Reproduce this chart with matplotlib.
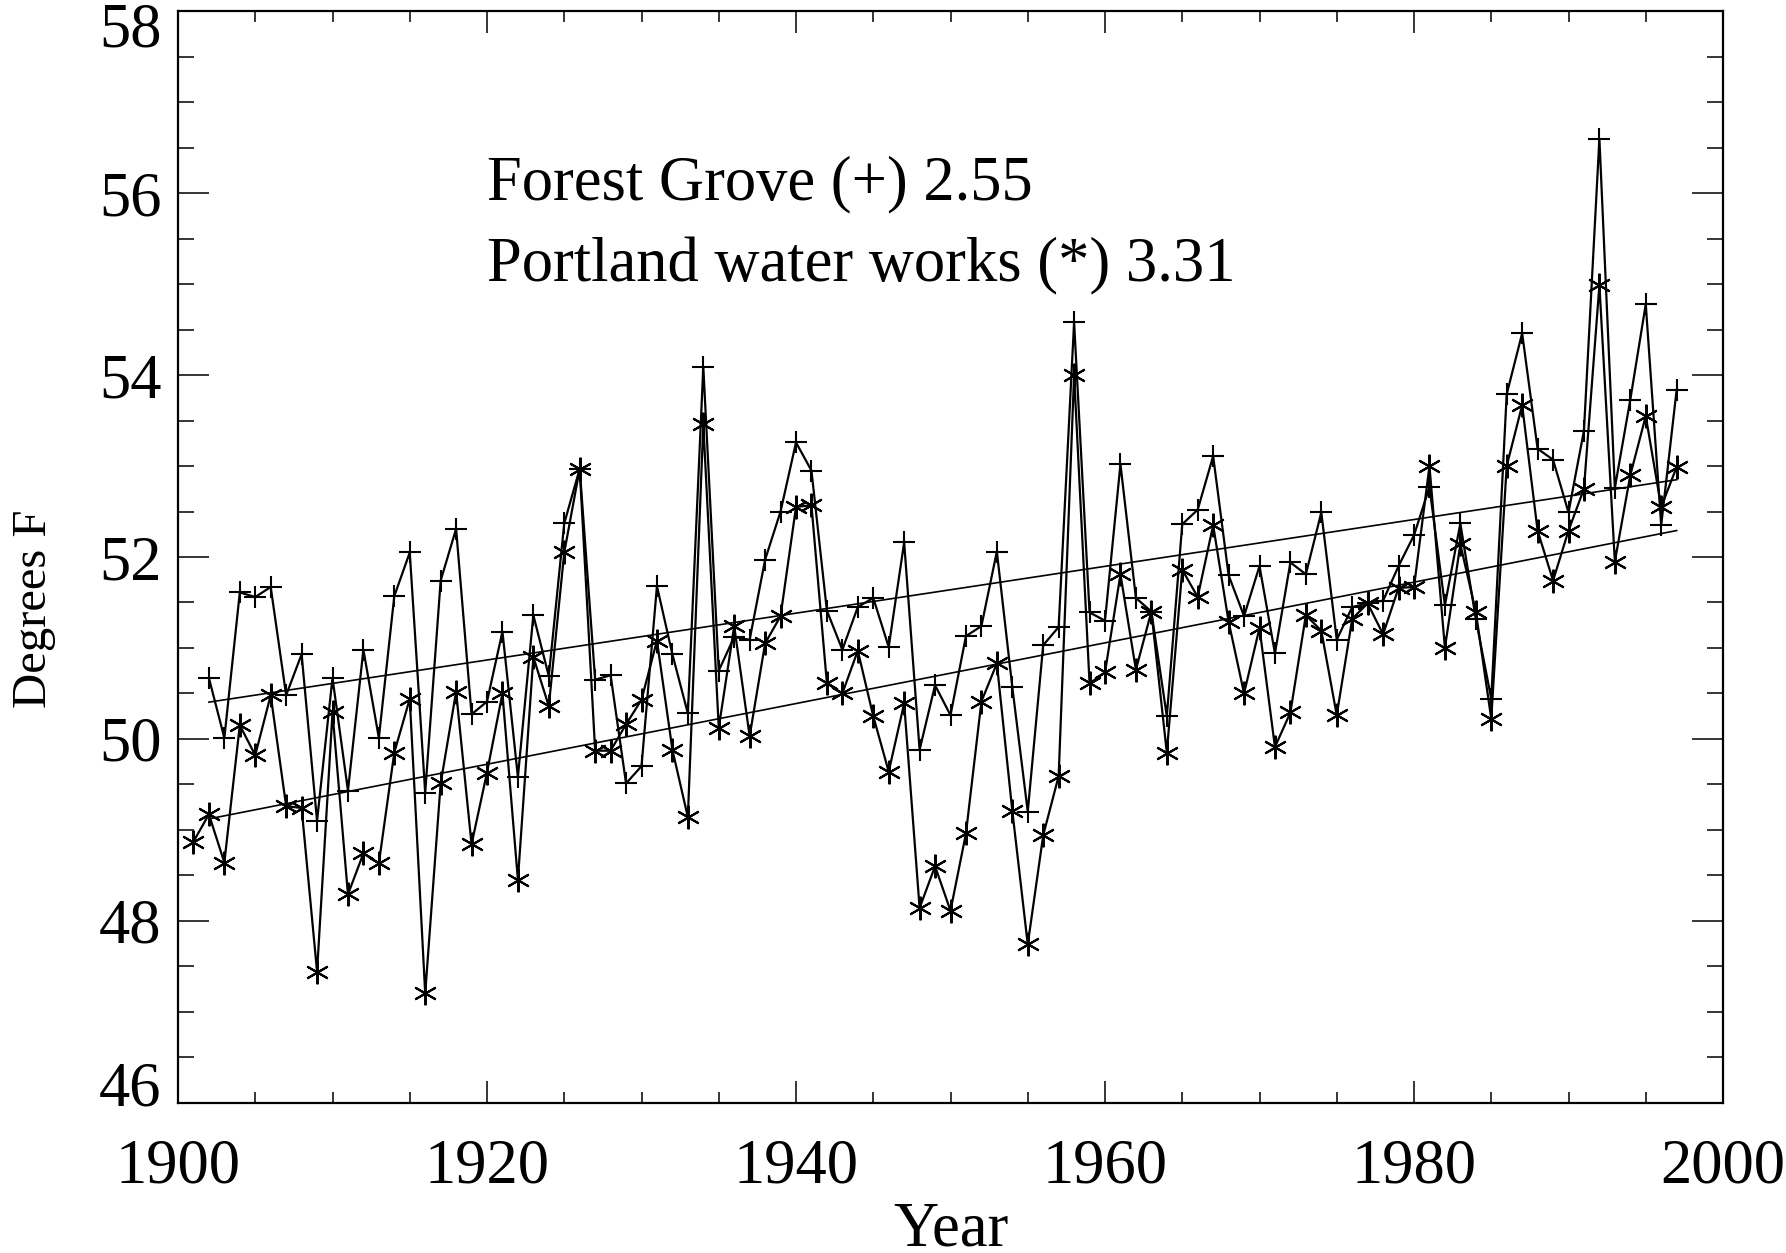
import numpy as np
import matplotlib
matplotlib.use('Agg')
import matplotlib.pyplot as plt
from matplotlib.ticker import MultipleLocator
from matplotlib.transforms import ScaledTranslation

# annual mean temperature, degrees F
fg_years = list(range(1902, 1998))   # Forest Grove (+)
fg_temp = [50.67, 50.01, 51.61, 51.56, 51.67, 50.48, 50.93, 49.10, 50.67, 49.43,
           50.98, 50.01, 51.57, 52.05, 49.41, 51.74, 52.31, 50.27, 50.41, 51.18,
           49.58, 51.36, 50.69, 52.37, 52.97, 50.65, 50.70, 49.51, 49.70, 51.68,
           50.93, 50.28, 54.09, 50.75, 51.12, 51.09, 51.97, 52.50, 53.26, 52.95,
           51.41, 50.98, 51.45, 51.55, 51.01, 52.16, 49.88, 50.59, 50.26, 51.13,
           51.24, 52.06, 50.57, 49.20, 51.03, 51.23, 54.58, 51.39, 51.30, 53.02,
           51.55, 51.40, 50.25, 52.36, 52.52, 53.11, 51.80, 51.35, 51.90, 50.94,
           51.94, 51.81, 52.49, 51.09, 51.45, 51.49, 51.52, 51.90, 52.24, 52.77,
           51.47, 52.37, 51.32, 50.44, 53.79, 54.46, 53.19, 53.07, 52.49, 53.39,
           56.60, 52.76, 53.73, 54.78, 52.35, 53.84]

pw_years = list(range(1901, 1998))   # Portland water works (*)
pw_temp = [48.87, 49.17, 48.64, 50.15, 49.82, 50.48, 49.26, 49.24, 47.44, 50.29,
           48.29, 48.74, 48.63, 49.85, 50.44, 47.20, 49.51, 50.52, 48.84, 49.63,
           50.50, 48.45, 50.90, 50.36, 52.05, 52.97, 49.87, 49.87, 50.16, 50.43,
           51.08, 49.88, 49.14, 53.46, 50.12, 51.24, 50.03, 51.05, 51.35, 52.55,
           52.57, 50.61, 50.50, 50.97, 50.25, 49.64, 50.39, 48.14, 48.60, 48.11,
           48.96, 50.41, 50.83, 49.21, 47.74, 48.94, 49.59, 54.00, 50.61, 50.73,
           51.81, 50.76, 51.40, 49.85, 51.86, 51.56, 52.35, 51.29, 50.50, 51.22,
           49.91, 50.29, 51.36, 51.19, 50.26, 51.32, 51.49, 51.15, 51.66, 51.67,
           53.00, 51.00, 52.14, 51.40, 50.22, 53.00, 53.67, 52.29, 51.74, 52.29,
           52.75, 54.99, 51.95, 52.90, 53.55, 52.55, 52.99]

labels = ['Forest Grove (+) 2.55', 'Portland water works (*) 3.31']
xticks = [1900, 1920, 1940, 1960, 1980, 2000]
yticks = [46, 48, 50, 52, 54, 56, 58]

plt.rcParams['font.family'] = ['Liberation Serif', 'DejaVu Serif']
fs = 45

fig = plt.figure(figsize=(17.86, 12.53), dpi=100)
ax = fig.add_axes([178/1786, 1-1102.6/1253, (1723-178)/1786, (1102.6-11.4)/1253])

ax.plot(fg_years, fg_temp, color='black', lw=1.6, marker='+', ms=16.5, mew=1.5)
ax.plot(pw_years, pw_temp, color='black', lw=1.6, marker=(6, 2, 0), ms=17, mew=1.5)

# linear trends over the common period
fy = np.array(fg_years); fv = np.array(fg_temp)
py = np.array(pw_years); pv = np.array(pw_temp)
m = py >= fy[0]
for xx, yy in [(fy, fv), (py[m], pv[m])]:
    c = np.polyfit(xx, yy, 1)
    ax.plot(xx, np.polyval(c, xx), color='black', lw=1.2)

ax.text(1920, 55.93, labels[0], fontsize=fs, va='baseline', ha='left')
ax.text(1920, 55.03, labels[1], fontsize=fs, va='baseline', ha='left')

ax.set_xlim(1900, 2000)
ax.set_ylim(46, 58)
ax.set_xticks(xticks)
ax.set_yticks(yticks)
ax.xaxis.set_minor_locator(MultipleLocator(5))
ax.yaxis.set_minor_locator(MultipleLocator(0.5))
ax.tick_params(which='both', direction='in', top=True, right=True, width=1.1,
               labelsize=fs)
ax.tick_params(axis='x', which='major', length=15.8, pad=26)
ax.tick_params(axis='x', which='minor', length=7.9)
ax.tick_params(axis='y', which='major', length=22.3, pad=12)
ax.tick_params(axis='y', which='minor', length=11.2)
for s in ax.spines.values():
    s.set_linewidth(1.6)

# end labels nudged inside the axis range, as in the original
yt = ax.yaxis.get_major_ticks()
for t, dy in [(yt[0], 0.19), (yt[-1], -0.135)]:
    t.label1.set_transform(t.label1.get_transform() +
                           ScaledTranslation(0, dy, fig.dpi_scale_trans))

fig.text(951/1786, 8/1253, 'Year', fontsize=fs, ha='center', va='baseline')
fig.text(34/1786, 1-609/1253, 'Degrees F', fontsize=35, ha='center', va='center',
         rotation=90)

fig.savefig('out.png', dpi=100)
